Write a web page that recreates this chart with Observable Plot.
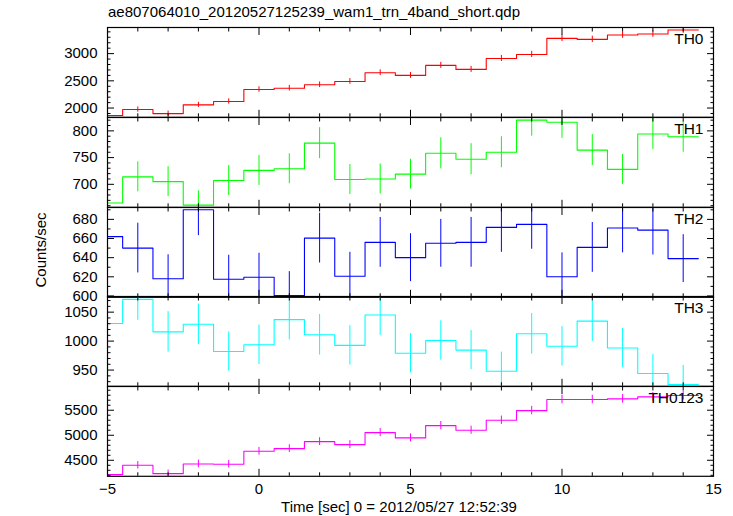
<!DOCTYPE html>
<html><head><meta charset="utf-8">
<script src="https://cdn.jsdelivr.net/npm/d3@7"></script>
<script src="https://cdn.jsdelivr.net/npm/@observablehq/plot@0.6"></script>
<style>
body{margin:0;background:#fff;}
#chart{position:relative;width:733px;height:516px;background:#fff;font-family:"Liberation Sans",Arial,Helvetica,sans-serif;}
#chart svg{position:absolute;left:0;}
</style>
</head><body><div id="chart"></div>
<script>
const title = "ae807064010_20120527125239_wam1_trn_4band_short.qdp";
const xLabel = "Time [sec] 0 = 2012/05/27 12:52:39";
const yLabel = "Counts/sec";

// bin centres (sec), 1 s wide bins
const bins = [-5,-4,-3,-2,-1,0,1,2,3,4,5,6,7,8,9,10,11,12,13,14];

const th0    = [1862,1972,1898,2059,2120,2341,2365,2428,2489,2649,2600,2784,2710,2911,2985,3280,3262,3341,3360,3434];
const th0Err = [45,48,46,48,49,50,51,52,52,54,54,55,55,56,57,59,59,60,60,61];
const th1    = [665,714,705,661,707,726,729,777,709,710,719,758,747,760,820,816,764,728,794,789];
const th1Err = [28,28,28,27,28,28,28,29,28,28,28,29,29,29,30,30,29,28,29,29];
const th2    = [662,650,618,690,617.5,619.6,600.4,660.4,620.6,656,640,655,656,671.6,674.8,620,650.7,671,668.8,639];
const th2Err = [26,26,25,27,25,25,25,26,25,26,25,25,26,26,26,25,26,26,26,25];
const th3    = [1030.5,1072,1016,1029,982,993.6,1037,1011,992.6,1045,979,1001,984.5,948,1012.6,991,1034.5,988,944,925];
const th3Err = [35,36,35,35,34,34,35,35,34,35,34,34,34,33,35,34,35,34,33,33];
const th0123    = [4213,4400,4233,4427,4420,4680,4733,4873,4813,5053,4947,5193,5100,5300,5493,5713,5713,5727,5767,5793];
const th0123Err = [72,74,72,75,75,77,77,79,79,81,80,82,81,83,84,86,86,86,87,87];

// tick labels / tick positions
const xMajor = [-5,0,5,10,15];
const xMinor = [-4,-3,-2,-1,1,2,3,4,6,7,8,9,11,12,13,14];
const th0Major = [2000,2500,3000];
const th0Minor = [1900,2100,2200,2300,2400,2600,2700,2800,2900,3100,3200,3300,3400];
const th1Major = [700,750,800];
const th1Minor = [660,670,680,690,710,720,730,740,760,770,780,790,810,820];
const th2Major = [600,620,640,660,680];
const th2Minor = [610,630,650,670,690];
const th3Major = [950,1000,1050];
const th3Minor = [930,940,960,970,980,990,1010,1020,1030,1040,1060,1070];
const th0123Major = [4500,5000,5500];
const th0123Minor = [4200,4300,4400,4600,4700,4800,4900,5100,5200,5300,5400,5600,5700,5800,5900];

const panels = [
  {name:"TH0", v:th0, e:th0Err, color:"#ff0000", domain:[1830,3480], major:th0Major, minor:th0Minor},
  {name:"TH1", v:th1, e:th1Err, color:"#00ff00", domain:[657,825], major:th1Major, minor:th1Minor},
  {name:"TH2", v:th2, e:th2Err, color:"#0000ff", domain:[598.6,692.4], major:th2Major, minor:th2Minor},
  {name:"TH3", v:th3, e:th3Err, color:"#00ffff", domain:[922,1077], major:th3Major, minor:th3Minor},
  {name:"TH0123", v:th0123, e:th0123Err, color:"#ff00ff", domain:[4180,5974], major:th0123Major, minor:th0123Minor}
];

const FONT = '"Liberation Sans",Arial,Helvetica,sans-serif';
const chart = document.getElementById("chart");

// overlay texts
const ov = d3.create("svg").attr("width",733).attr("height",516)
  .style("top","0px").attr("font-family",FONT).attr("fill","black");
ov.append("text").attr("x",108).attr("y",17).attr("font-size",15).text(title);
ov.append("text").attr("x",399).attr("y",512).attr("text-anchor","middle").attr("font-size",15).text(xLabel);
ov.append("text").attr("transform","translate(45.5,250) rotate(-90)").attr("text-anchor","middle").attr("font-size",15).text(yLabel);
chart.append(ov.node());

const top0 = 27, ph = 89.8, mt = 10;
const fmtX = d => d < 0 ? "\u2212" + Math.abs(d) : String(d);

panels.forEach((p, i) => {
  const last = i === panels.length - 1;
  const mb = last ? 40 : 10;
  const steps = bins.map((b, j) => ({x: b - 0.5, y: p.v[j]}))
    .concat([{x: bins[bins.length-1] + 0.5, y: p.v[p.v.length-1]}]);
  const errs = bins.map((b, j) => ({x: b, y1: p.v[j] - p.e[j], y2: p.v[j] + p.e[j]}));
  const marks = [
    Plot.ruleX(errs, {x:"x", y1:"y1", y2:"y2", stroke:p.color, strokeWidth:1, clip:true}),
    Plot.line(steps, {x:"x", y:"y", curve:"step-after", stroke:p.color, strokeWidth:1.1, clip:true}),
    Plot.axisY(p.major, {anchor:"left", tickSize:-7, fill:"none", label:null}),
    Plot.axisY(p.minor, {anchor:"left", tickSize:-3.5, fill:"none", label:null}),
    Plot.axisY(p.major, {anchor:"right", tickSize:-7, fill:"none", label:null}),
    Plot.axisY(p.minor, {anchor:"right", tickSize:-3.5, fill:"none", label:null}),
    Plot.axisY(p.major, {anchor:"left", tickSize:0, tickPadding:10, label:null, fontSize:15, tickFormat:d => String(d)}),
    Plot.axisX(xMajor, {anchor:"top", tickSize:-7, fill:"none", label:null}),
    Plot.axisX(xMinor, {anchor:"top", tickSize:-3.5, fill:"none", label:null}),
    Plot.axisX(xMajor, {anchor:"bottom", tickSize:-7, fill:"none", label:null}),
    Plot.axisX(xMinor, {anchor:"bottom", tickSize:-3.5, fill:"none", label:null}),
    Plot.frame({stroke:"black", strokeWidth:1.2}),
    Plot.text([p.name], {text:d => d, frameAnchor:"top-right", dx:-10, dy:5, fontSize:15.5, fill:"black"})
  ];
  if (last) marks.push(Plot.axisX(xMajor, {anchor:"bottom", tickSize:0, tickPadding:7, label:null, fontSize:15, tickFormat:fmtX}));
  const svg = Plot.plot({
    width:733, height: ph + mt + mb,
    marginLeft:107, marginRight:20, marginTop:mt, marginBottom:mb,
    style:{background:"transparent", overflow:"visible", fontFamily:FONT, fontSize:"15px", color:"black"},
    x:{domain:[-5,15]},
    y:{domain:p.domain},
    marks
  });
  svg.style.top = (top0 + i*ph - mt) + "px";
  chart.append(svg);
});
</script></body></html>
